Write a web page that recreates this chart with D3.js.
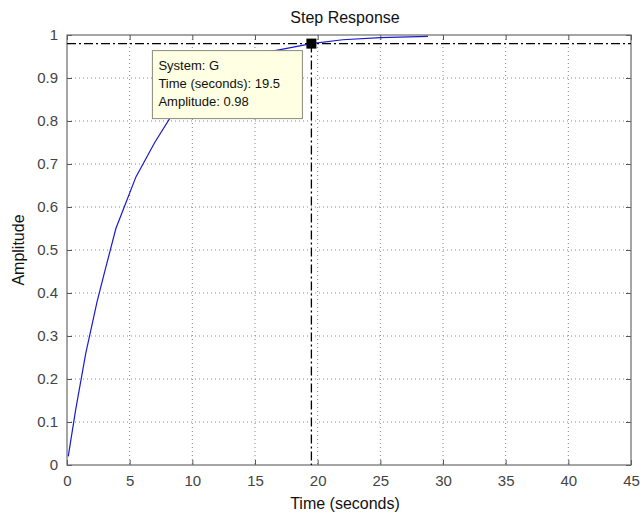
<!DOCTYPE html>
<html>
<head>
<meta charset="utf-8">
<script src="https://cdn.jsdelivr.net/npm/d3@7"></script>
<style>
body{margin:0;background:#fff;}
text{font-family:"Liberation Sans",Arial,sans-serif;}
</style>
</head>
<body>
<div id="canvas"></div>
<script>
// step response samples
var times = [0.1, 0.7, 1.5, 2.4, 3.1, 3.9, 4.7, 5.5, 7, 8.5, 10, 12, 14, 16.5, 19.5, 22, 25, 28.8];
var amps  = [0.02, 0.13, 0.26, 0.38, 0.46, 0.55, 0.61, 0.67, 0.75, 0.82, 0.865, 0.91, 0.94, 0.963, 0.98, 0.989, 0.994, 0.997];
var xTicks = [0,5,10,15,20,25,30,35,40,45];
var yTicks = [0,0.1,0.2,0.3,0.4,0.5,0.6,0.7,0.8,0.9,1];
var marker = {t:19.5, a:0.98};
var tipLines = ['System: G','Time (seconds): 19.5','Amplitude: 0.98'];

var W = 643, H = 519;
var m = {t:35,r:12,b:54,l:67};
var w = W - m.l - m.r, h = H - m.t - m.b;

var svg = d3.select('#canvas').append('svg')
    .attr('width',W).attr('height',H);
var plot = svg.append('g').attr('transform','translate('+m.l+','+m.t+')');

var x = d3.scaleLinear().domain([0,45]).range([0,w]);
var y = d3.scaleLinear().domain([0,1]).range([h,0]);

//grid
plot.append('g').selectAll('line').data(xTicks.slice(1,-1)).enter().append('line')
    .attr('x1',function(d){return x(d);}).attr('x2',function(d){return x(d);})
    .attr('y1',0).attr('y2',h)
    .attr('stroke','#888').attr('stroke-width',1).attr('stroke-dasharray','1,3');
plot.append('g').selectAll('line').data(yTicks.slice(1,-1)).enter().append('line')
    .attr('y1',function(d){return y(d);}).attr('y2',function(d){return y(d);})
    .attr('x1',0).attr('x2',w)
    .attr('stroke','#888').attr('stroke-width',1).attr('stroke-dasharray','1,3');

//axes, ticks inside
function styleAxis(g){
    g.select('.domain').remove();
    g.selectAll('.tick line').attr('stroke','#555');
    g.selectAll('.tick text').attr('fill','#444').style('font-size','15px');
}
var fmt = function(d){return d===0?'0':(d===1?'1':d3.format('.1f')(d));};
plot.append('g').attr('transform','translate(0,'+h+')')
    .call(d3.axisBottom(x).tickValues(xTicks).tickSizeInner(-5).tickSizeOuter(0).tickPadding(10))
    .call(styleAxis);
plot.append('g')
    .call(d3.axisTop(x).tickValues(xTicks).tickSizeInner(-5).tickSizeOuter(0).tickFormat(''))
    .call(styleAxis);
plot.append('g')
    .call(d3.axisLeft(y).tickValues(yTicks).tickSizeInner(-5).tickSizeOuter(0).tickPadding(9).tickFormat(fmt))
    .call(styleAxis);
plot.append('g').attr('transform','translate('+w+',0)')
    .call(d3.axisRight(y).tickValues(yTicks).tickSizeInner(-5).tickSizeOuter(0).tickFormat(''))
    .call(styleAxis);
plot.append('rect').attr('width',w).attr('height',h)
    .attr('fill','none').attr('stroke','#6a6a6a').attr('stroke-width',1.2);

//curve
var pts = times.map(function(t,i){return [t,amps[i]];});
var line = d3.line().x(function(d){return x(d[0]);}).y(function(d){return y(d[1]);});
plot.append('path').datum(pts).attr('d',line)
    .attr('fill','none').attr('stroke','#1a1ad0').attr('stroke-width',1.2);

//settling lines
plot.append('line').attr('x1',0).attr('x2',w)
    .attr('y1',y(marker.a)).attr('y2',y(marker.a))
    .attr('stroke','#000').attr('stroke-width',1.3).attr('stroke-dasharray','9,3,2,3');
plot.append('line').attr('x1',x(marker.t)).attr('x2',x(marker.t))
    .attr('y1',y(marker.a)).attr('y2',h)
    .attr('stroke','#000').attr('stroke-width',1.3).attr('stroke-dasharray','9,3,2,3');

//data tip
var tip = plot.append('g').attr('transform','translate('+(x(marker.t)-159)+','+(y(marker.a)+7)+')');
tip.append('rect').attr('width',150).attr('height',68)
    .attr('fill','#ffffe3').attr('stroke','#8a8a7a').attr('stroke-width',1);
tip.selectAll('text').data(tipLines).enter().append('text')
    .attr('x',6).attr('y',function(d,i){return 19+i*18;})
    .style('font-size','13px').attr('fill','#111')
    .text(function(d){return d;});
plot.append('rect')
    .attr('x',x(marker.t)-5).attr('y',y(marker.a)-5)
    .attr('width',10).attr('height',10).attr('fill','#000');

//labels
svg.append('text').attr('x',m.l+w/2-4).attr('y',23).attr('text-anchor','middle')
    .style('font-size','16px').attr('fill','#111').text('Step Response');
svg.append('text').attr('x',m.l+w/2-4).attr('y',H-10).attr('text-anchor','middle')
    .style('font-size','16px').attr('fill','#111').text('Time (seconds)');
svg.append('text').attr('transform','translate(24,'+(m.t+h/2)+') rotate(-90)')
    .attr('text-anchor','middle').style('font-size','16px').attr('fill','#111').text('Amplitude');
</script>
</body>
</html>
